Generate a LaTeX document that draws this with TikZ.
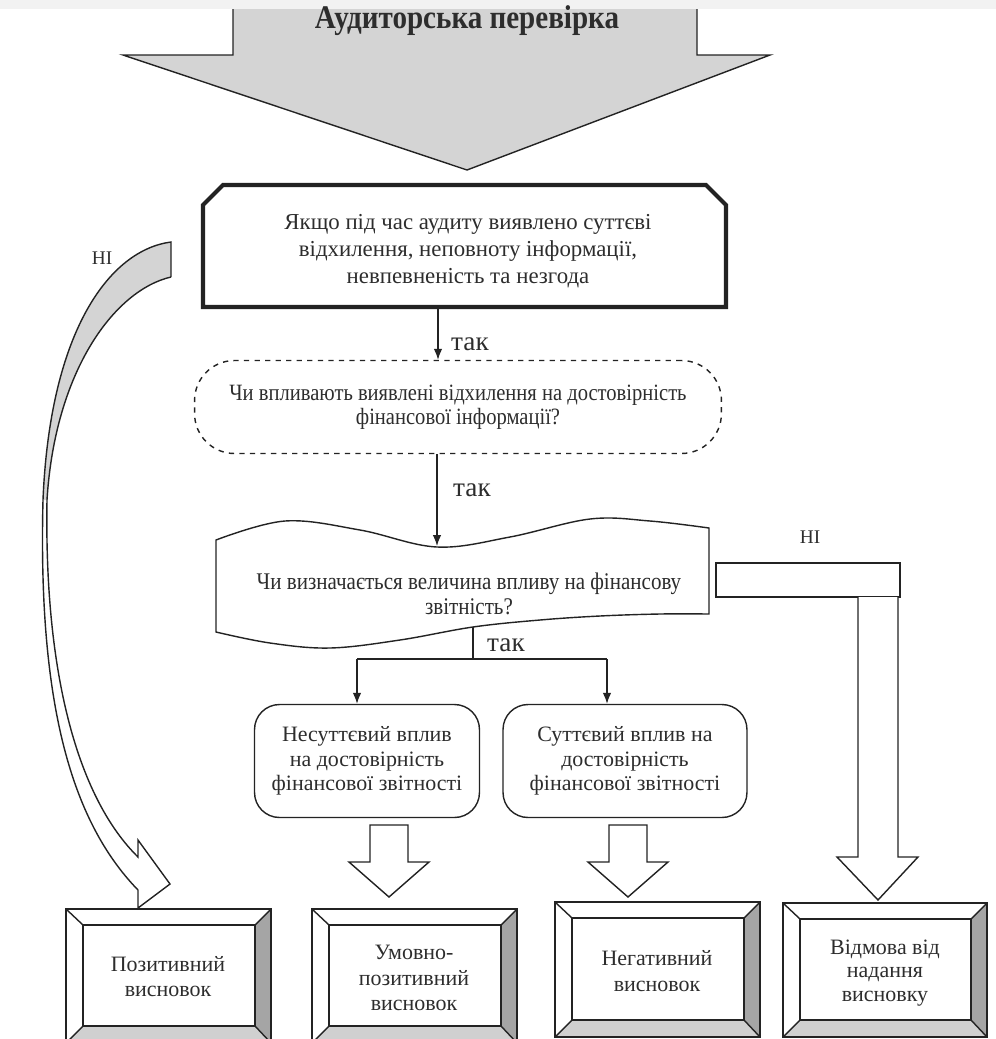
\documentclass[tikz,border=0pt]{standalone}
\usepackage{fontspec}
\setmainfont{Liberation Serif}
\newfontfamily\narrowfont{Liberation Serif}[FakeStretch=0.88]
\usetikzlibrary{arrows.meta}
\definecolor{ink}{RGB}{35,35,35}
\definecolor{txt}{RGB}{45,45,45}
\definecolor{arrowgray}{RGB}{212,212,212}
\definecolor{bevdark}{RGB}{165,165,165}
\definecolor{bevlight}{RGB}{208,208,208}
\definecolor{topstrip}{RGB}{242,242,242}

\begin{document}
\begin{tikzpicture}[x=0.02cm, y=-0.02cm, line join=miter,
  lbl/.style={text=txt, align=center, inner sep=0pt},
  conn/.style={-{Latex[length=2.2mm,width=1.7mm]}, draw=ink, line width=0.7pt},
  hollow/.style={draw=ink, fill=white, line width=0.8pt},
  dbox/.style={draw=ink, dashed, line width=0.8pt, rounded corners=0.8cm,
    minimum width=10.54cm, minimum height=1.86cm, text=txt, align=center},
  rbox/.style={draw=ink, line width=0.8pt, rounded corners=0.5cm,
    minimum height=2.26cm, text=txt, align=center}]
  \useasboundingbox (0,0) rectangle (996,1039);

  % big arrow at the top
  \fill[arrowgray] (233,5) -- (697,5) -- (697,55) -- (770,55) -- (467,170) -- (123,55) -- (233,55) -- cycle;
  \draw[ink, line width=0.8pt] (233,5) -- (233,55) -- (123,55) -- (467,170) -- (770,55) -- (697,55) -- (697,5);
  \fill[topstrip] (0,0) rectangle (996,9);
  \node[lbl, font=\narrowfont\bfseries\fontsize{18.8}{22}\selectfont] (audit) at (467,21) {Аудиторська перевірка};

  % condition box
  \draw[ink, line width=2.4pt] (203,205) -- (223,185) -- (706,185) -- (726,205) -- (726,307) -- (203,307) -- cycle;
  \node[lbl, font=\fontsize{13}{15.4}\selectfont] (cond) at (468,251)
    {Якщо під час аудиту виявлено суттєві\\відхилення, неповноту інформації,\\невпевненість та незгода};
  \coordinate (condBot) at (438,308.5);

  \node[dbox, font=\narrowfont\fontsize{13.3}{13.6}\selectfont] (affect) at (458,407)
    {Чи впливають виявлені відхилення на достовірність\\фінансової інформації?};

  % tape shape
  \draw[ink, line width=0.8pt, fill=white] plot[smooth, tension=0.6] coordinates
    {(216,540) (285,521) (360,530) (437,547) (510,537) (590,519) (650,521) (709,528)}
    -- plot[smooth, tension=0.6] coordinates
    {(709,614) (660,614) (600,616) (540,620) (473,627) (400,640) (330,648) (270,643) (216,632)} -- cycle;
  \node[lbl, font=\narrowfont\fontsize{13.6}{14}\selectfont] (impact) at (469,594)
    {Чи визначається величина впливу на фінансову\\звітність?};
  \coordinate (tapeTop) at (437,546);
  \coordinate (tapeBot) at (473,627);

  % yes branches
  \draw[conn] (condBot) -- (affect.north -| condBot);
  \node[lbl, font=\fontsize{15.5}{18}\selectfont] (yesA) at (470,344) {так};
  \draw[conn] (affect.south -| tapeTop) -- (tapeTop);
  \node[lbl, font=\fontsize{15.5}{18}\selectfont] (yesB) at (472,490) {так};

  \node[rbox, minimum width=4.5cm, font=\fontsize{12.5}{13.8}\selectfont] (minor) at (367,761)
    {Несуттєвий вплив\\на достовірність\\фінансової звітності};
  \node[rbox, minimum width=4.88cm, font=\fontsize{12.5}{13.8}\selectfont] (major) at (625,761)
    {Суттєвий вплив на\\достовірність\\фінансової звітності};
  \coordinate (splitL) at (357,659);
  \coordinate (splitR) at (607,659);
  \draw[ink, line width=0.7pt] (tapeBot) -- (tapeBot |- splitL);
  \draw[ink, line width=0.7pt] (splitL) -- (splitR);
  \draw[conn] (splitL) -- (minor.north -| splitL);
  \draw[conn] (splitR) -- (major.north -| splitR);
  \node[lbl, font=\fontsize{15.5}{18}\selectfont] (yesC) at (506,645) {так};

  % no: refusal
  \node[lbl, font=\fontsize{11}{13}\selectfont] (noR) at (810,537) {НІ};
  \draw[hollow] (716,563) rectangle (900,597);
  \draw[hollow] (858,597) -- (858,857) -- (837,857) -- (878,900) -- (918,857) -- (898,857) -- (898,597);

  % no: positive
  \node[lbl, font=\fontsize{11}{13}\selectfont] (noL) at (102,258) {НІ};
  \fill[arrowgray] (171,242) .. controls (110,250) and (50,330) .. (43,500)
    -- (47,500) .. controls (55,370) and (115,290) .. (171,277) -- cycle;
  \draw[ink, line width=0.8pt] (171,277) -- (171,242) .. controls (110,250) and (50,330) .. (43,500)
    .. controls (38,700) and (70,820) .. (138,890) -- (138,908) -- (170,884) -- (138,840) -- (138,857)
    .. controls (80,800) and (44,680) .. (47,500) .. controls (55,370) and (115,290) .. (171,277);

  % block arrows
  \foreach \cx in {389, 628}
    \draw[hollow] (\cx-19,825) -- (\cx+19,825) -- (\cx+19,862) -- (\cx+40,862) -- (\cx,897)
      -- (\cx-40,862) -- (\cx-19,862) -- cycle;

  % conclusion boxes
  \foreach \xa/\ya/\xb/\yb in {66/909/271/1043, 312/909/517/1043, 555/902/760/1037, 783/903/987/1037}{
    \fill[bevdark] (\xb,\ya) -- (\xb,\yb) -- (\xb-16,\yb-17) -- (\xb-16,\ya+16) -- cycle;
    \fill[bevlight] (\xa,\yb) -- (\xb,\yb) -- (\xb-16,\yb-17) -- (\xa+17,\yb-17) -- cycle;
    \draw[ink, line width=1.2pt] (\xa,\ya) rectangle (\xb,\yb);
    \draw[ink, line width=0.8pt] (\xa+17,\ya+16) rectangle (\xb-16,\yb-17);
    \draw[ink, line width=0.8pt] (\xa,\ya) -- (\xa+17,\ya+16) (\xb,\ya) -- (\xb-16,\ya+16)
      (\xa,\yb) -- (\xa+17,\yb-17) (\xb,\yb) -- (\xb-16,\yb-17);
  }
  \node[lbl, font=\fontsize{12.5}{14.2}\selectfont] (pos) at (168,977) {Позитивний\\висновок};
  \node[lbl, font=\fontsize{12.5}{14.6}\selectfont] (qual) at (414,978) {Умовно-\\позитивний\\висновок};
  \node[lbl, font=\fontsize{12.5}{14.6}\selectfont] (neg) at (657,971) {Негативний\\висновок};
  \node[lbl, font=\fontsize{12.5}{13.6}\selectfont] (refuse) at (885,973) {Відмова від\\надання\\висновку};
\end{tikzpicture}
\end{document}
